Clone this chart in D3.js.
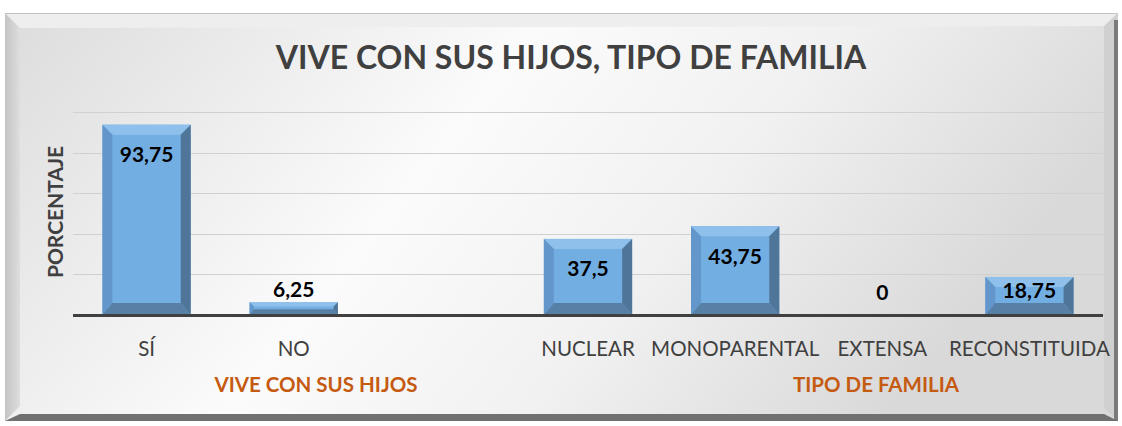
<!DOCTYPE html>
<html>
<head>
<meta charset="utf-8">
<script src="https://cdn.jsdelivr.net/npm/d3@7"></script>
<style>
  body { margin: 0; background: #fff; }
  text { font-family: Lato, "Open Sans", sans-serif; }
</style>
</head>
<body>
<script>
var categories = ["SÍ", "NO", "", "NUCLEAR", "MONOPARENTAL", "EXTENSA", "RECONSTITUIDA"];
var values = [93.75, 6.25, null, 37.5, 43.75, 0, 18.75];
var valueLabels = ["93,75", "6,25", "", "37,5", "43,75", "0", "18,75"];
var groups = ["VIVE CON SUS HIJOS", "TIPO DE FAMILIA"];
var yTicks = [0, 20, 40, 60, 80, 100];

var W = 1122, H = 426;
var svg = d3.select("body").append("svg").attr("width", W).attr("height", H);
var defs = svg.append("defs");

// panel background
var bg = defs.append("linearGradient").attr("id", "bg").attr("x1", "0").attr("y1", "0").attr("x2", "1").attr("y2", "0.3");
bg.append("stop").attr("offset", "0").attr("stop-color", "#dcdcdc");
bg.append("stop").attr("offset", "0.45").attr("stop-color", "#fbfbfb");
bg.append("stop").attr("offset", "0.7").attr("stop-color", "#f1f1f1");
bg.append("stop").attr("offset", "1").attr("stop-color", "#d9d9d9");

var lb = defs.append("linearGradient").attr("id", "lb").attr("x1", "0").attr("x2", "1");
lb.append("stop").attr("offset", "0").attr("stop-color", "#c4c4c4");
lb.append("stop").attr("offset", "1").attr("stop-color", "#dedede");

svg.append("rect").attr("x", 5).attr("y", 13).attr("width", 1113).attr("height", 408).attr("fill", "url(#bg)");
// frame bevels
svg.append("polygon").attr("points", "5,13 20,28 20,406 5,421").attr("fill", "url(#lb)");
svg.append("polygon").attr("points", "5,13 1118,13 1104,26 20,28").attr("fill", "#eeeeee");
svg.append("line").attr("x1", 5).attr("x2", 1118).attr("y1", 13.5).attr("y2", 13.5).attr("stroke", "#c4c4c4");
svg.append("polygon").attr("points", "1118,13 1118,421 1104,408 1104,26").attr("fill", "#d0d0d0");
svg.append("rect").attr("x", 1114).attr("y", 20).attr("width", 4).attr("height", 401).attr("fill", "#7a7a7a");
svg.append("polygon").attr("points", "5,421 1118,421 1104,414 20,414").attr("fill", "#707070");

var x = d3.scaleBand().domain(d3.range(categories.length)).range([73, 1103]).paddingInner(0.4).paddingOuter(0.2);
var y = d3.scaleLinear().domain([0, 100]).range([315, 112]);

// gridlines
svg.append("g").selectAll("line").data(yTicks.slice(1)).enter().append("line")
  .attr("x1", 73).attr("x2", 1103)
  .attr("y1", function (d) { return Math.round(y(d)) + 0.5; })
  .attr("y2", function (d) { return Math.round(y(d)) + 0.5; })
  .attr("stroke", "#d0d0d0").attr("stroke-width", 1.2);

// beveled bars
var bars = svg.append("g");
values.forEach(function (v, i) {
  if (v == null || v === 0) return;
  var x0 = x(i), x1 = x(i) + x.bandwidth(), y0 = y(v), y1 = y(0);
  var h = y1 - y0;
  var b = Math.min(10, h / 3);
  var bb = Math.min(12, h / 2.2);
  var g = bars.append("g");
  g.append("rect").attr("x", x0).attr("y", y0).attr("width", x1 - x0).attr("height", h).attr("fill", "#73aee2");
  g.append("polygon").attr("points", [[x0, y0], [x1, y0], [x1 - b, y0 + b], [x0 + b, y0 + b]].join(" ")).attr("fill", "#8fc0ec");
  g.append("polygon").attr("points", [[x0, y0], [x0 + b, y0 + b], [x0 + b, y1 - bb], [x0, y1]].join(" ")).attr("fill", "#6397cb");
  g.append("polygon").attr("points", [[x1, y0], [x1 - b, y0 + b], [x1 - b, y1 - bb], [x1, y1]].join(" ")).attr("fill", "#4f7699");
  g.append("polygon").attr("points", [[x0, y1], [x0 + b, y1 - bb], [x1 - b, y1 - bb], [x1, y1]].join(" ")).attr("fill", "#587fa5");
});

// baseline
svg.append("line").attr("x1", 73).attr("x2", 1103).attr("y1", 315.5).attr("y2", 315.5)
  .attr("stroke", "#404040").attr("stroke-width", 3);

// value labels
svg.append("g").selectAll("text").data(values).enter().append("text")
  .filter(function (d) { return d != null; })
  .attr("x", function (d, i) { return x(values.indexOf(d)) + x.bandwidth() / 2; })
  .attr("y", function (d) {
    var top = y(d), h = y(0) - top;
    var cy = h > 30 ? top + Math.min(30, h / 2 - 5) : Math.min(top - 13, y(0) - 23);
    return cy + 7.5;
  })
  .attr("text-anchor", "middle").attr("font-weight", "bold").attr("font-size", 21).attr("fill", "#000")
  .text(function (d) { return valueLabels[values.indexOf(d)]; });

// category labels
svg.append("g").selectAll("text").data(categories).enter().append("text")
  .attr("x", function (d, i) { return x(i) + x.bandwidth() / 2; })
  .attr("y", 356)
  .attr("text-anchor", "middle").attr("font-size", 20.5).attr("fill", "#404040")
  .text(function (d) { return d; });

// group labels
svg.append("g").selectAll("text").data(groups).enter().append("text")
  .attr("x", function (d, i) { return i === 0 ? 316 : 876; })
  .attr("y", 392)
  .attr("text-anchor", "middle").attr("font-weight", "bold").attr("font-size", 20.5).attr("fill", "#c55a11")
  .text(function (d) { return d; });

// title
svg.append("text").attr("x", 571).attr("y", 69).attr("text-anchor", "middle")
  .attr("font-weight", "bold").attr("font-size", 32).attr("fill", "#404040")
  .text("VIVE CON SUS HIJOS, TIPO DE FAMILIA");

// y axis title
svg.append("text").attr("transform", "translate(63,212) rotate(-90)").attr("text-anchor", "middle")
  .attr("font-weight", "bold").attr("font-size", 21).attr("fill", "#404040")
  .text("PORCENTAJE");
</script>
</body>
</html>
